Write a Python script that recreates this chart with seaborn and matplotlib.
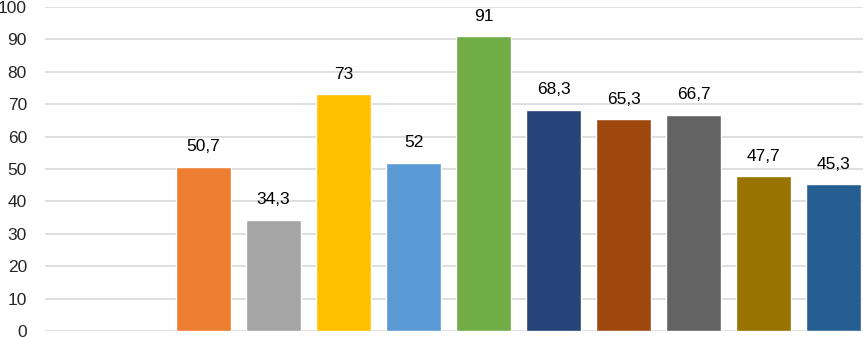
import numpy as np
import pandas as pd
import matplotlib
matplotlib.use('Agg')
import matplotlib.pyplot as plt
import seaborn as sns

# 데이터
categories = ['c1', 'c2', 'c3', 'c4', 'c5', 'c6', 'c7', 'c8', 'c9', 'c10']
values = [50.7, 34.3, 73, 52, 91, 68.3, 65.3, 66.7, 47.7, 45.3]
colors = ['#ED7D31', '#A5A5A5', '#FFC000', '#5B9BD5', '#70AD47',
          '#264478', '#9E480E', '#636363', '#997300', '#255E91']
y_ticks = [0, 10, 20, 30, 40, 50, 60, 70, 80, 90, 100]

sns.set_style('white')
plt.rcParams['font.family'] = ['Liberation Sans', 'DejaVu Sans']

df = pd.DataFrame({'cat': categories, 'val': values})

fig = plt.figure(figsize=(8.63, 3.37), dpi=100)
ax = fig.add_axes([45 / 863, 6 / 337, 818 / 863, 324 / 337])

sns.barplot(data=df, x='cat', y='val', hue='cat', palette=colors,
            width=0.786, saturation=1, legend=False, ax=ax, zorder=3)

# 값 레이블 (소수점 쉼표)
for i, v in enumerate(values):
    ax.annotate(f'{v:g}'.replace('.', ','), (i, v), xytext=(0, 9),
                textcoords='offset points', ha='center', va='bottom',
                fontsize=12.5, color='#000000')

ax.set_ylim(0, 100)
ax.set_xlim(-2.264, 9.421)
ax.set_yticks(y_ticks)
ax.set_yticklabels([str(t) for t in y_ticks], fontsize=12.5)
ax.set_xticks([])
ax.set_xlabel('')
ax.set_ylabel('')
ax.yaxis.grid(True, color='#D9D9D9', linewidth=1.2, zorder=0)
ax.tick_params(axis='y', length=0, pad=13)
for s in ax.spines.values():
    s.set_visible(False)

fig.savefig('out.png', dpi=100)
